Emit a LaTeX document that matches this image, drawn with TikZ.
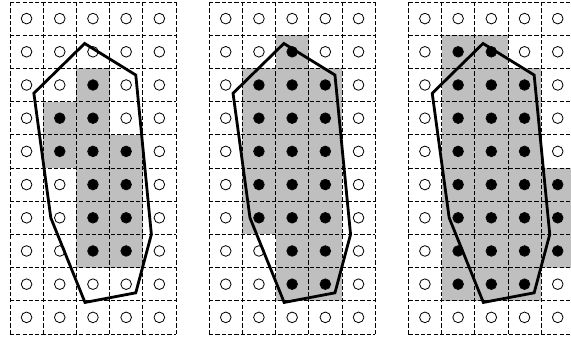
\documentclass[tikz,border=0pt]{standalone}
\definecolor{shade}{gray}{0.75}
\tikzset{
  gridline/.style={dash pattern=on 3.6pt off 1.8pt, line width=0.65pt},
  hull/.style={line width=2.4pt, line join=miter},
  opendot/.style={draw, line width=0.7pt, fill=white},
  fulldot/.style={fill=black},
  cellfill/.style={fill=shade}
}
\newcommand\drawpanel[2]{%
  \begin{scope}[xshift=#1cm]
    \foreach \c/\r in {#2} \fill[cellfill] (\c,-\r) rectangle ++(1,-1);
    \draw[gridline] (0,0) grid (5,-10);
    \foreach \c in {0,...,4} \foreach \r in {0,...,9} \draw[opendot] (\c+0.5,-\r-0.5) circle (0.16);
    \foreach \c/\r in {#2} \fill[fulldot] (\c+0.5,-\r-0.5) circle (0.155);
    \draw[hull] (2.25,-1.25) -- (3.79,-2.2) -- (4.26,-7.0) -- (3.79,-8.76) -- (2.26,-9.05) -- (1.23,-6.5) -- (0.72,-2.75) -- cycle;
  \end{scope}}
\begin{document}
\begin{tikzpicture}
\useasboundingbox (-0.3,0.06) rectangle (16.9,-10.15);
\drawpanel{0}{2/2,1/3,2/3,1/4,2/4,3/4,2/5,3/5,2/6,3/6,2/7,3/7}
\drawpanel{6}{2/1,1/2,2/2,3/2,1/3,2/3,3/3,1/4,2/4,3/4,1/5,2/5,3/5,1/6,2/6,3/6,2/7,3/7,2/8,3/8}
\drawpanel{12}{1/1,2/1,1/2,2/2,3/2,1/3,2/3,3/3,1/4,2/4,3/4,1/5,2/5,3/5,4/5,1/6,2/6,3/6,4/6,1/7,2/7,3/7,4/7,1/8,2/8,3/8}
\end{tikzpicture}
\end{document}
